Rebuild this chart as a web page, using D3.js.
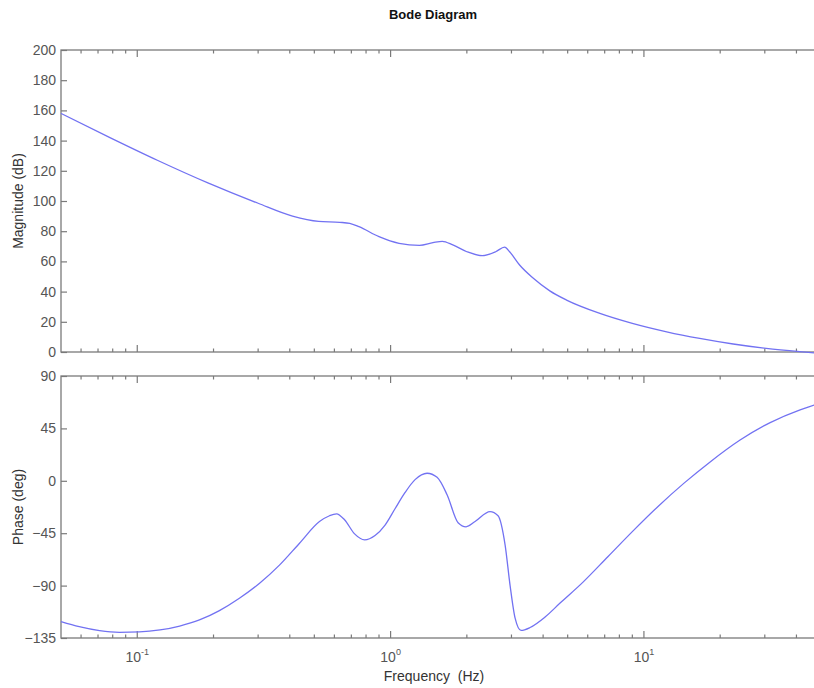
<!DOCTYPE html>
<html>
<head>
<meta charset="utf-8">
<script src="https://d3js.org/d3.v7.min.js"></script>
<style>
  body { margin: 0; background: #fff; }
  svg { display: block; font-family: "Liberation Sans", Arial, sans-serif; }
</style>
</head>
<body>
<svg id="chart" width="814" height="688"></svg>
<script>
// values
var magFreq = [0.05, 0.078, 0.12, 0.19, 0.3, 0.41, 0.52, 0.63, 0.69, 0.75, 0.9, 1.08, 1.3, 1.47, 1.6, 1.76, 2.0, 2.3, 2.6, 2.82, 2.95, 3.23, 3.65, 4.25, 4.95, 6.7, 9.0, 12.3, 16.6, 22.5, 30.4, 41.2, 50];
var magDb = [158, 142, 127, 112, 98.5, 90, 86.5, 85.9, 85.2, 83, 76.4, 72, 70.6, 72.4, 73.3, 70.9, 66.4, 63.8, 66.4, 69.5, 66.4, 57.6, 49, 40.5, 34.4, 25.6, 19, 13.4, 9, 5.3, 2.4, 0.2, -1];

var phFreq = [0.05, 0.059, 0.071, 0.085, 0.102, 0.123, 0.147, 0.176, 0.211, 0.253, 0.304, 0.365, 0.437, 0.524, 0.574, 0.612, 0.658, 0.721, 0.79, 0.868, 0.951, 1.041, 1.141, 1.249, 1.393, 1.526, 1.671, 1.847, 1.986, 2.155, 2.469, 2.656, 2.831, 2.963, 3.101, 3.273, 3.554, 4.072, 4.667, 5.75, 7.22, 9.06, 11.37, 14.4, 18.2, 23.96, 31.5, 41.35, 46.97, 50];
var phDeg = [-121, -125.3, -128.7, -130.1, -129.8, -128.1, -124.7, -119.5, -111.5, -100.9, -88, -72.2, -53.6, -35, -30, -28.4, -33.5, -45.6, -50.7, -47, -38, -24, -10, 1, 6.5, 3, -12, -36, -39.5, -35, -26.5, -30, -55, -90, -118, -128.5, -126, -117, -105, -87, -65, -43, -22, -2, 16, 35, 50, 61, 65, 67];

var magTicks = [0, 20, 40, 60, 80, 100, 120, 140, 160, 180, 200];
var phTicks = [-135, -90, -45, 0, 45, 90];
var majorFreq = [0.1, 1, 10];
var majorLabels = ["-1", "0", "1"];
var minorFreq = [0.06, 0.07, 0.08, 0.09, 0.2, 0.3, 0.4, 0.5, 0.6, 0.7, 0.8, 0.9, 2, 3, 4, 5, 6, 7, 8, 9, 20, 30, 40];

var svg = d3.select("#chart");
var axisColor = "#7a7a7a";
var textColor = "#555";
var lineColor = "#7272f2";

var left = 61, right = 821;
var magTop = 50, magBottom = 352;
var phTop = 376, phBottom = 638;

var x = d3.scaleLog().domain([0.05, 50]).range([left, right]);
var yMag = d3.scaleLinear().domain([0, 200]).range([magBottom, magTop]);
var yPh = d3.scaleLinear().domain([-135, 90]).range([phBottom, phTop]);

/**
 * one panel: frame, inward ticks, y labels, curve
 */
function panel(y, top, bottom, yTicks, freqs, vals) {
  var g = svg.append("g");

  // y axis on the left, ticks pointing in
  g.append("g")
    .attr("transform", "translate(" + left + ",0)")
    .call(d3.axisLeft(y).tickValues(yTicks).tickSizeInner(-6).tickSizeOuter(0).tickPadding(5))
    .call(function(a) {
      a.select(".domain").remove();
      a.selectAll("line").attr("stroke", axisColor).attr("stroke-width", 1.2);
      a.selectAll("text").attr("fill", textColor).style("font-size", "14px");
    });

  // major + minor x ticks, bottom and top, pointing in
  [bottom, top].forEach(function(yy, k) {
    var dir = k == 0 ? -1 : 1;
    g.selectAll(null).data(majorFreq).enter().append("line")
      .attr("x1", function(d) { return x(d); }).attr("x2", function(d) { return x(d); })
      .attr("y1", yy).attr("y2", yy + dir * 7)
      .attr("stroke", axisColor).attr("stroke-width", 1.2);
    g.selectAll(null).data(minorFreq).enter().append("line")
      .attr("x1", function(d) { return x(d); }).attr("x2", function(d) { return x(d); })
      .attr("y1", yy).attr("y2", yy + dir * 3.5)
      .attr("stroke", axisColor).attr("stroke-width", 1.2);
  });

  // frame
  g.append("rect")
    .attr("x", left).attr("y", top)
    .attr("width", right - left).attr("height", bottom - top)
    .attr("fill", "none").attr("stroke", axisColor).attr("stroke-width", 1.3);

  var pts = freqs.map(function(f, i) { return [f, vals[i]]; });
  var line = d3.line()
    .x(function(d) { return x(d[0]); })
    .y(function(d) { return y(d[1]); })
    .curve(d3.curveMonotoneX);

  g.append("path")
    .datum(pts)
    .attr("d", line)
    .attr("fill", "none")
    .attr("stroke", lineColor)
    .attr("stroke-width", 1.3);
}

panel(yMag, magTop, magBottom, magTicks, magFreq, magDb);
panel(yPh, phTop, phBottom, phTicks, phFreq, phDeg);

// x tick labels 10^n
var lab = svg.selectAll(null).data(majorFreq).enter().append("text")
  .attr("x", function(d) { return x(d); })
  .attr("y", 662)
  .attr("text-anchor", "middle")
  .attr("fill", textColor)
  .style("font-size", "14px");
lab.append("tspan").text("10");
lab.append("tspan")
  .attr("dy", -7)
  .style("font-size", "9px")
  .text(function(d, i) { return majorLabels[i]; });

// titles
svg.append("text")
  .attr("x", 433).attr("y", 19)
  .attr("text-anchor", "middle")
  .style("font-size", "13px").style("font-weight", "bold")
  .attr("fill", "#111")
  .text("Bode Diagram");

svg.append("text")
  .attr("x", 434).attr("y", 681)
  .attr("text-anchor", "middle")
  .style("font-size", "14px")
  .attr("fill", "#333")
  .attr("xml:space", "preserve")
  .text("Frequency  (Hz)");

svg.append("text")
  .attr("transform", "translate(23," + (magTop + magBottom) / 2 + ") rotate(-90)")
  .attr("text-anchor", "middle")
  .style("font-size", "14px")
  .attr("fill", "#333")
  .text("Magnitude (dB)");

svg.append("text")
  .attr("transform", "translate(23," + (phTop + phBottom) / 2 + ") rotate(-90)")
  .attr("text-anchor", "middle")
  .style("font-size", "14px")
  .attr("fill", "#333")
  .text("Phase (deg)");
</script>
</body>
</html>
